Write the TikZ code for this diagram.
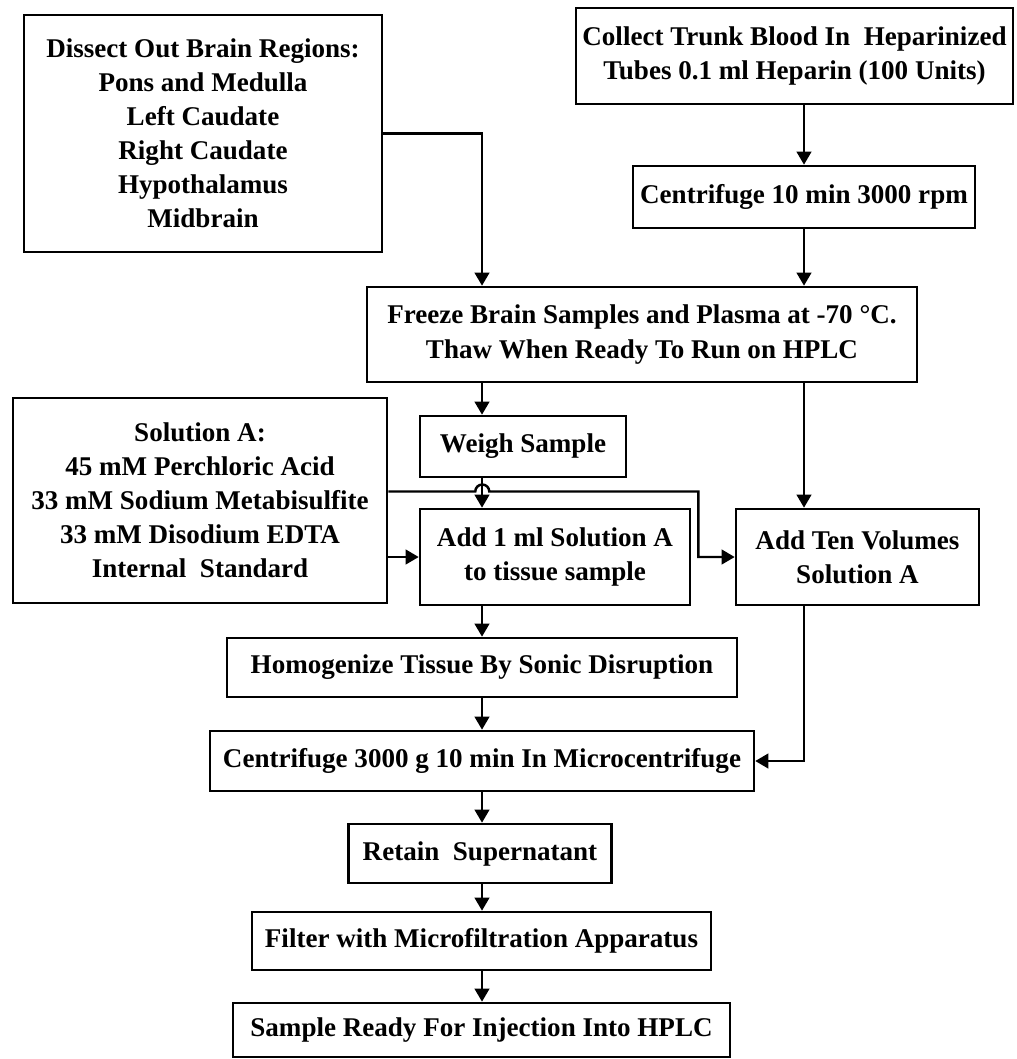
\documentclass[tikz,border=0pt]{standalone}
\usepackage{fontspec}
\setmainfont{Liberation Serif}
\usetikzlibrary{arrows.meta,positioning}
\tikzset{box/.style={draw,line width=1.5pt,align=center,inner sep=2pt,font=\fontsize{15.4}{19.4}\selectfont\bfseries},
  arr/.style={-{Triangle[length=2.6mm,width=2.9mm]},line width=1.4pt}}

\begin{document}
\begin{tikzpicture}[x=0.02cm,y=-0.02cm]
\useasboundingbox (0,0) rectangle (1017,1059);
% top row
\node[box,minimum width=7.16cm,minimum height=4.74cm] (dissect) at (203,133.5) {Dissect Out Brain Regions:\\Pons and Medulla\\Left Caudate\\Right Caudate\\Hypothalamus\\Midbrain};
\node[box,minimum width=8.74cm,minimum height=1.92cm] (collect) at (794.5,56) {Collect Trunk Blood In\ \ Heparinized\\Tubes 0.1 ml Heparin (100 Units)};
\node[box,minimum width=6.84cm,minimum height=1.24cm] (spin1) at (804,197) {Centrifuge 10 min 3000 rpm};
\node[box,minimum width=11cm,minimum height=1.9cm] (freeze) at (642,334.5) {Freeze Brain Samples and Plasma at -70 °C.\\Thaw When Ready To Run on HPLC};
% middle
\node[box,minimum width=4.12cm,minimum height=1.22cm] (weigh) at (523,446.5) {Weigh Sample};
\node[box,minimum width=7.48cm,minimum height=4.1cm] (solA) at (200,500.5) {Solution A:\\45 mM Perchloric Acid\\33 mM Sodium Metabisulfite\\33 mM Disodium EDTA\\Internal\ \ Standard};
\node[box,minimum width=5.4cm,minimum height=1.92cm] (addone) at (555,557) {Add 1 ml Solution A\\to tissue sample};
\node[box,minimum width=4.86cm,minimum height=1.92cm] (addten) at (857.5,557) {Add Ten Volumes\\Solution A};
% bottom column
\node[box,minimum width=10.2cm,minimum height=1.18cm] (homog) at (482,667.5) {Homogenize Tissue By Sonic Disruption};
\node[box,minimum width=10.88cm,minimum height=1.2cm] (spin2) at (482,761) {Centrifuge 3000 g 10 min In Microcentrifuge};
\node[box,minimum width=5.26cm,minimum height=1.18cm] (retain) at (480,853.5) {Retain\ \ Supernatant};
\node[box,minimum width=9.18cm,minimum height=1.16cm] (filter) at (481.5,941) {Filter with Microfiltration Apparatus};
\node[box,minimum width=9.94cm,minimum height=1.08cm] (ready) at (481.5,1030) {Sample Ready For Injection Into HPLC};

% connectors
\draw[arr] (dissect.east) -| (freeze.north -| homog.north);
\draw[arr] (collect.south -| spin1.north) -- (spin1.north);
\draw[arr] (spin1.south) -- (freeze.north -| spin1.south);
\draw[arr] (freeze.south -| homog.north) -- (weigh.north -| homog.north);
\draw[arr] (weigh.south -| homog.north) -- (addone.north -| homog.north);
\draw[arr] (freeze.south -| spin1.south) -- (addten.north -| spin1.south);
\draw[arr] ([yshift=0.18cm]solA.east) -- ++(87,0) arc[start angle=180,end angle=0,radius=0.14cm] -- ++(209,0) |- (addten.west);
\draw[arr] (solA.east |- addone.west) -- (addone.west);
\draw[arr] (addone.south -| homog.north) -- (homog.north);
\draw[arr] (homog.south) -- (spin2.north);
\draw[arr] (addten.south -| spin1.south) |- (spin2.east);
\draw[arr] (spin2.south) -- (retain.north -| spin2.south);
\draw[arr] (retain.south -| spin2.south) -- (filter.north -| spin2.south);
\draw[arr] (filter.south -| spin2.south) -- (ready.north -| spin2.south);
\end{tikzpicture}
\end{document}
